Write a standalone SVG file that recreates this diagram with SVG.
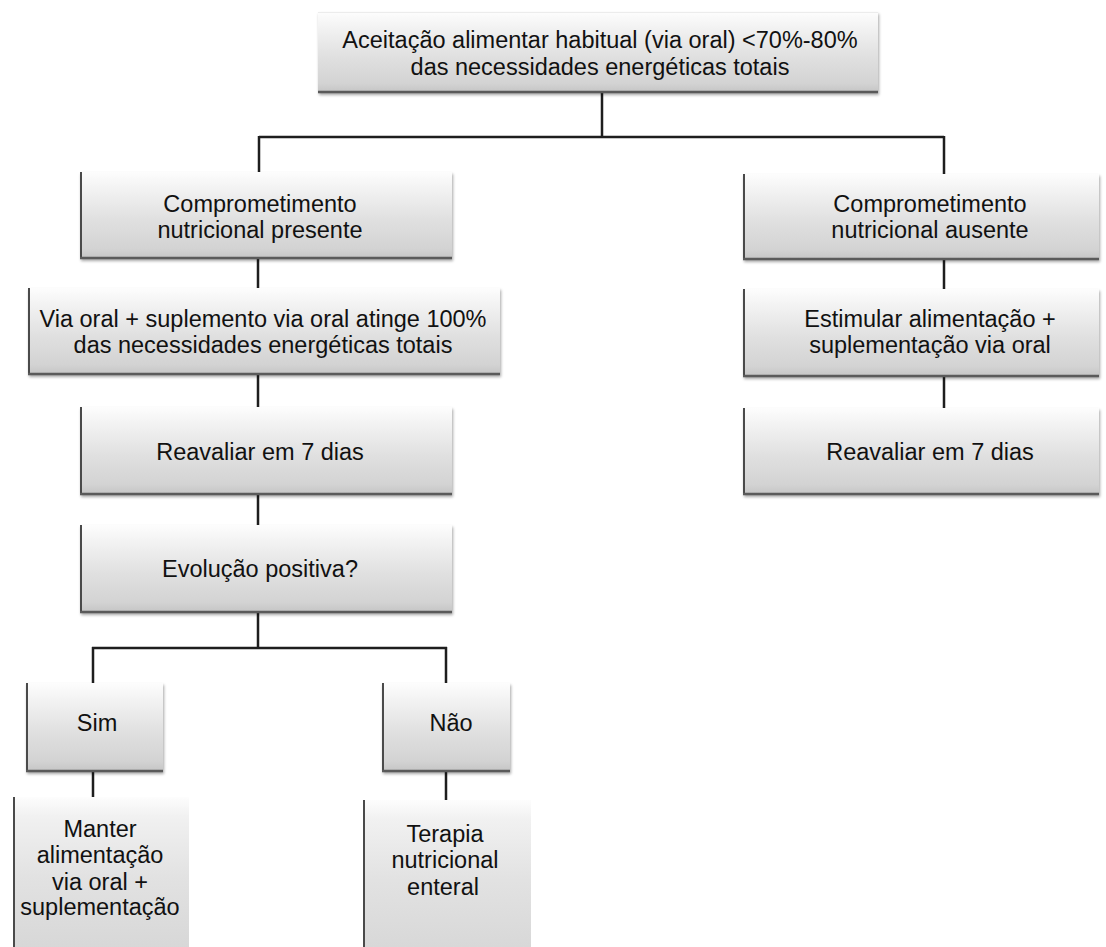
<svg xmlns="http://www.w3.org/2000/svg" width="1106" height="947" viewBox="0 0 1106 947">
  <defs>
    <linearGradient id="boxFill" x1="0" y1="0" x2="0" y2="1">
      <stop offset="0" stop-color="#fdfdfd"/>
      <stop offset="0.18" stop-color="#f3f3f3"/>
      <stop offset="0.55" stop-color="#e0e0e0"/>
      <stop offset="0.88" stop-color="#d3d3d3"/>
      <stop offset="1" stop-color="#c4c4c4"/>
    </linearGradient>
    <linearGradient id="tallFill" x1="0" y1="0" x2="0" y2="1">
      <stop offset="0" stop-color="#fdfdfd"/>
      <stop offset="0.12" stop-color="#f1f1f1"/>
      <stop offset="0.5" stop-color="#e2e2e2"/>
      <stop offset="1" stop-color="#d6d6d6"/>
    </linearGradient>
    <filter id="soft" x="-5%" y="-10%" width="112%" height="125%">
      <feGaussianBlur in="SourceAlpha" stdDeviation="1.5"/>
      <feOffset dx="1" dy="1.5" result="b"/>
      <feComponentTransfer><feFuncA type="linear" slope="0.35"/></feComponentTransfer>
      <feMerge><feMergeNode/><feMergeNode in="SourceGraphic"/></feMerge>
    </filter>
  </defs>
  <style>
    .box { fill: url(#boxFill); filter: url(#soft); }
    .tall { fill: url(#tallFill); }
    .edge { fill: none; stroke: #4a4a4a; stroke-width: 2; }
    .base { fill: none; stroke: #5a5a5a; stroke-width: 2.5; }
    .top { fill: none; stroke: #ececec; stroke-width: 1; }
    .link { fill: none; stroke: #1e1e1e; stroke-width: 2.5; }
    text { font-family: "Liberation Sans", Arial, sans-serif; font-size: 23.5px; fill: #111111; text-anchor: middle; }
  </style>
  <rect width="1106" height="947" fill="#ffffff"/>

  <!-- connectors -->
  <g id="connectors">
    <path class="link" d="M602 93 V137 M259 137 H944 M259 136 V172 M944 136 V174"/>
    <path class="link" d="M258 259 V288 M258 375 V407 M258 495 V525"/>
    <path class="link" d="M944 260 V289 M944 377 V408"/>
    <path class="link" d="M258 613 V648 M92 648 H447 M93 647 V683 M446 647 V683"/>
    <path class="link" d="M93 772 V797 M446 772 V800"/>
  </g>

  <!-- root -->
  <g id="n-root">
    <rect class="box" x="318" y="12" width="560" height="81"/>
    <path class="top" d="M318 12.5 H878"/>
    <path class="base" d="M318 92 H878"/>
    <text x="600" y="48">Aceitação alimentar habitual (via oral) &lt;70%-80%</text>
    <text x="600" y="75">das necessidades energéticas totais</text>
  </g>

  <!-- left branch -->
  <g id="n-presente">
    <rect class="box" x="80" y="172" width="372" height="87"/>
    <path class="edge" d="M81 172 V259"/>
    <path class="base" d="M80 258 H452"/>
    <text x="260" y="212">Comprometimento</text>
    <text x="260" y="238">nutricional presente</text>
  </g>

  <g id="n-via-oral">
    <rect class="box" x="28" y="288" width="472" height="87"/>
    <path class="edge" d="M29 288 V375"/>
    <path class="base" d="M28 374 H500"/>
    <text x="263" y="327">Via oral + suplemento via oral atinge 100%</text>
    <text x="263" y="353">das necessidades energéticas totais</text>
  </g>

  <g id="n-reavaliar-a">
    <rect class="box" x="80" y="407" width="372" height="88"/>
    <path class="edge" d="M81 407 V495"/>
    <path class="base" d="M80 494 H452"/>
    <text x="260" y="460">Reavaliar em 7 dias</text>
  </g>

  <g id="n-evolucao">
    <rect class="box" x="80" y="525" width="372" height="88"/>
    <path class="edge" d="M81 525 V613"/>
    <path class="base" d="M80 612 H452"/>
    <text x="260" y="577">Evolução positiva?</text>
  </g>

  <g id="n-sim">
    <rect class="box" x="26" y="683" width="137" height="89"/>
    <path class="edge" d="M27 683 V772"/>
    <path class="base" d="M26 771 H163"/>
    <text x="97" y="731">Sim</text>
  </g>

  <g id="n-nao">
    <rect class="box" x="382" y="683" width="128" height="89"/>
    <path class="edge" d="M383 683 V772"/>
    <path class="base" d="M382 771 H510"/>
    <text x="451" y="731">Não</text>
  </g>

  <g id="n-manter">
    <rect class="tall" x="13" y="797" width="176" height="160"/>
    <path class="edge" d="M14 797 V947"/>
    <text x="100" y="837">Manter</text>
    <text x="100" y="863">alimentação</text>
    <text x="100" y="890">via oral +</text>
    <text x="100" y="915">suplementação</text>
  </g>

  <g id="n-terapia">
    <rect class="tall" x="363" y="800" width="168" height="160"/>
    <path class="edge" d="M364 800 V947"/>
    <text x="445" y="842">Terapia</text>
    <text x="445" y="868">nutricional</text>
    <text x="443" y="895">enteral</text>
  </g>

  <!-- right branch -->
  <g id="n-ausente">
    <rect class="box" x="743" y="174" width="356" height="86"/>
    <path class="edge" d="M744 174 V260"/>
    <path class="base" d="M743 259 H1099"/>
    <text x="930" y="212">Comprometimento</text>
    <text x="930" y="238">nutricional ausente</text>
  </g>

  <g id="n-estimular">
    <rect class="box" x="743" y="289" width="356" height="88"/>
    <path class="edge" d="M744 289 V377"/>
    <path class="base" d="M743 376 H1099"/>
    <text x="930" y="327">Estimular alimentação +</text>
    <text x="930" y="353">suplementação via oral</text>
  </g>

  <g id="n-reavaliar-b">
    <rect class="box" x="743" y="408" width="356" height="87"/>
    <path class="edge" d="M744 408 V495"/>
    <path class="base" d="M743 494 H1099"/>
    <text x="930" y="460">Reavaliar em 7 dias</text>
  </g>
</svg>
